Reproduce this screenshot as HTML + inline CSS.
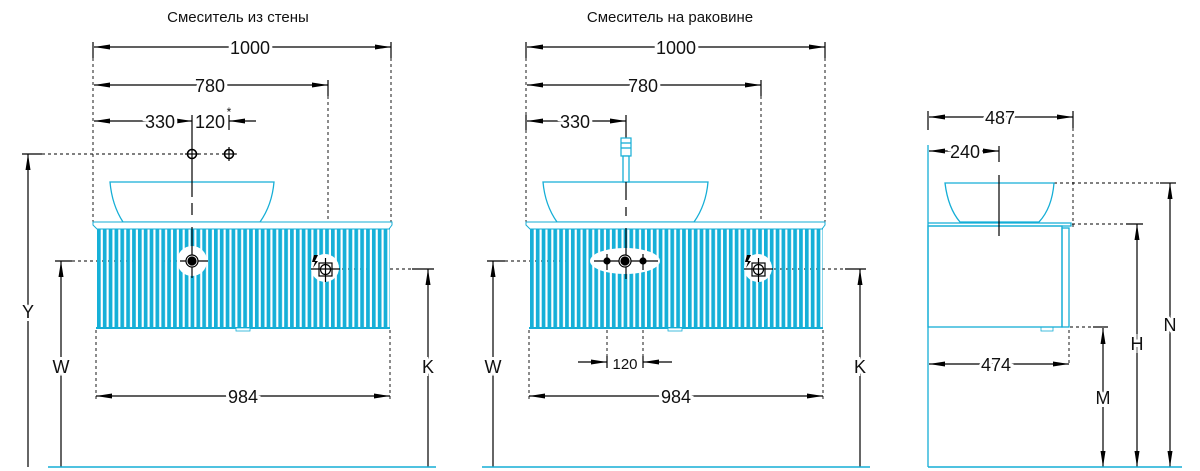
<!DOCTYPE html>
<html><head><meta charset="utf-8"><style>
html,body{margin:0;padding:0;background:#fff;width:1200px;height:471px;overflow:hidden}
svg{display:block}
text{font-family:"Liberation Sans",sans-serif;fill:#111}
</style></head><body>
<svg width="1200" height="471" viewBox="0 0 1200 471" xmlns="http://www.w3.org/2000/svg">
<defs>
<marker id="a" viewBox="0 0 16 6" refX="16" refY="3" markerWidth="16" markerHeight="6" markerUnits="userSpaceOnUse" orient="auto-start-reverse"><path d="M0,0.5 L16,3 L0,5.5 Z" fill="#000"/></marker>
<pattern id="st" x="97" y="0" width="5.85" height="10" patternUnits="userSpaceOnUse"><rect x="0" y="0" width="3.7" height="10" fill="#15b0d8"/></pattern>
<pattern id="st2" x="530" y="0" width="5.85" height="10" patternUnits="userSpaceOnUse"><rect x="0" y="0" width="3.7" height="10" fill="#15b0d8"/></pattern>
</defs>

<!-- ===== LEFT VIEW ===== -->
<text x="238" y="22" font-size="15" text-anchor="middle">Смеситель из стены</text>
<g stroke="#000" stroke-width="1.2" fill="none">
<line x1="94" y1="47" x2="391" y2="47" marker-start="url(#a)" marker-end="url(#a)"/>
<line x1="94" y1="85" x2="328" y2="85" marker-start="url(#a)" marker-end="url(#a)"/>
<line x1="94" y1="121" x2="192" y2="121" marker-start="url(#a)" marker-end="url(#a)"/>
<line x1="256" y1="121" x2="229" y2="121" marker-end="url(#a)"/>
<line x1="93" y1="42" x2="93" y2="58"/><line x1="391" y1="42" x2="391" y2="58"/>
<line x1="328" y1="80" x2="328" y2="96"/><line x1="192" y1="115" x2="192" y2="130"/><line x1="229" y1="115" x2="229" y2="130"/>
<line x1="96" y1="396" x2="390" y2="396" marker-start="url(#a)" marker-end="url(#a)"/>
<line x1="28" y1="467" x2="28" y2="154" marker-end="url(#a)"/>
<line x1="61" y1="467" x2="61" y2="261" marker-end="url(#a)"/>
<line x1="428" y1="467" x2="428" y2="269" marker-end="url(#a)"/>
<line x1="22" y1="154" x2="42" y2="154"/><line x1="55" y1="261" x2="72" y2="261"/><line x1="412" y1="269" x2="434" y2="269"/>
</g>
<g stroke="#000" stroke-width="0.9" stroke-dasharray="3,3" fill="none">
<line x1="93" y1="58" x2="93" y2="222"/><line x1="391" y1="58" x2="391" y2="222"/>
<line x1="328" y1="96" x2="328" y2="290"/>
<line x1="42" y1="154" x2="240" y2="154"/>
<line x1="72" y1="261" x2="190" y2="261"/><line x1="330" y1="269" x2="412" y2="269"/>
<line x1="96" y1="330" x2="96" y2="400"/><line x1="390" y1="330" x2="390" y2="400"/>
</g>
<rect x="96" y="227" width="294" height="101" fill="url(#st)"/>
<g stroke="#15aed6" stroke-width="1.3" fill="#fff">
<path d="M110,182 L274,182 Q272,205 260,222 L123,222 Q112,205 110,182 Z"/>
<path d="M93,222 L392,222 L392,225 L389,229 L97,229 L93,225 Z" stroke-width="1"/>
<line x1="96" y1="328" x2="390" y2="328" stroke-width="2"/>
<rect x="236" y="328" width="14" height="3" stroke-width="0.8"/>
</g>
<ellipse cx="192" cy="261" rx="15" ry="15" fill="#fff"/>
<ellipse cx="325" cy="268" rx="14" ry="14" fill="#fff"/>
<g stroke="#000" stroke-width="1.2" fill="none">
<line x1="192" y1="130" x2="192" y2="197"/><line x1="192" y1="203" x2="192" y2="215"/><line x1="192" y1="227" x2="192" y2="278"/>
<circle cx="192" cy="154" r="4.5" stroke-width="1.6"/><line x1="185" y1="154" x2="199" y2="154"/>
<circle cx="229" cy="154" r="4.5" stroke-width="1.6"/><line x1="222" y1="154" x2="236" y2="154"/><line x1="229" y1="147" x2="229" y2="161"/>
<line x1="180" y1="261" x2="208" y2="261"/>
<circle cx="192" cy="261" r="6" fill="#fff"/><circle cx="192" cy="261" r="4" fill="#000"/>
<rect x="319" y="263" width="13" height="13" fill="#fff"/><circle cx="325.5" cy="269.5" r="5"/>
<line x1="311" y1="269" x2="340" y2="269"/><line x1="325.5" y1="258" x2="325.5" y2="282"/>
</g>
<path d="M314,255 L318,255 L315,261 L318,261 L313,268 L315,262 L312,262 Z" fill="#000"/>
<g font-size="18" text-anchor="middle" style="paint-order:stroke" stroke="#fff" stroke-width="6">
<text x="160" y="128">330</text>
<text x="210" y="128" stroke-width="3">120</text>
<text x="210" y="92">780</text>
<text x="250" y="54">1000</text>
<text x="243" y="403">984</text>
<text x="28" y="318">Y</text>
<text x="61" y="373">W</text>
<text x="428" y="373">K</text>
</g>
<text x="229" y="116" font-size="12" text-anchor="middle">*</text>
<line x1="48" y1="467" x2="436" y2="467" stroke="#15aed6" stroke-width="1.5"/>

<!-- ===== CENTER VIEW ===== -->
<text x="670" y="22" font-size="15" text-anchor="middle">Смеситель на раковине</text>
<g stroke="#000" stroke-width="1.2" fill="none">
<line x1="527" y1="47" x2="825" y2="47" marker-start="url(#a)" marker-end="url(#a)"/>
<line x1="527" y1="85" x2="761" y2="85" marker-start="url(#a)" marker-end="url(#a)"/>
<line x1="527" y1="121" x2="626" y2="121" marker-start="url(#a)" marker-end="url(#a)"/>
<line x1="526" y1="42" x2="526" y2="58"/><line x1="825" y1="42" x2="825" y2="58"/>
<line x1="761" y1="80" x2="761" y2="96"/><line x1="526" y1="115" x2="526" y2="130"/><line x1="626" y1="115" x2="626" y2="200"/>
<line x1="529" y1="396" x2="823" y2="396" marker-start="url(#a)" marker-end="url(#a)"/>
<line x1="578" y1="362" x2="607" y2="362" marker-end="url(#a)"/>
<line x1="672" y1="362" x2="643" y2="362" marker-end="url(#a)"/>
<line x1="607" y1="356" x2="607" y2="368"/><line x1="643" y1="356" x2="643" y2="368"/>
<line x1="493" y1="467" x2="493" y2="261" marker-end="url(#a)"/>
<line x1="860" y1="467" x2="860" y2="269" marker-end="url(#a)"/>
<line x1="487" y1="261" x2="505" y2="261"/><line x1="845" y1="269" x2="866" y2="269"/>
</g>
<g stroke="#000" stroke-width="0.9" stroke-dasharray="3,3" fill="none">
<line x1="526" y1="58" x2="526" y2="222"/><line x1="825" y1="58" x2="825" y2="222"/>
<line x1="761" y1="96" x2="761" y2="290"/>
<line x1="505" y1="261" x2="600" y2="261"/><line x1="768" y1="269" x2="845" y2="269"/>
<line x1="529" y1="330" x2="529" y2="400"/><line x1="823" y1="330" x2="823" y2="400"/>
<line x1="607" y1="270" x2="607" y2="356"/><line x1="643" y1="270" x2="643" y2="356"/>
</g>
<rect x="529" y="227" width="294" height="101" fill="url(#st2)"/>
<g stroke="#15aed6" stroke-width="1.3" fill="#fff">
<path d="M543,182 L708,182 Q706,205 694,222 L557,222 Q545,205 543,182 Z"/>
<path d="M526,222 L825,222 L825,225 L822,229 L530,229 L526,225 Z" stroke-width="1"/>
<line x1="529" y1="328" x2="823" y2="328" stroke-width="2"/>
<rect x="668" y="328" width="14" height="3" stroke-width="0.8"/>
<rect x="621" y="138" width="10" height="18" stroke-width="1.2"/>
<line x1="621" y1="143" x2="631" y2="143"/><line x1="621" y1="148" x2="631" y2="148"/>
<rect x="623" y="156" width="6" height="26"/>
</g>
<ellipse cx="625" cy="261" rx="35" ry="13" fill="#fff"/>
<ellipse cx="758" cy="268" rx="14" ry="14" fill="#fff"/>
<g stroke="#000" stroke-width="1.2" fill="none">
<line x1="626" y1="182" x2="626" y2="200"/><line x1="626" y1="207" x2="626" y2="216"/><line x1="626" y1="228" x2="626" y2="279"/>
<line x1="594" y1="261" x2="658" y2="261"/>
<circle cx="625" cy="261" r="6" fill="#fff"/><circle cx="625" cy="261" r="4" fill="#000"/>
<circle cx="607" cy="261" r="3" fill="#000"/><circle cx="643" cy="261" r="3" fill="#000"/>
<line x1="607" y1="254" x2="607" y2="270"/><line x1="643" y1="254" x2="643" y2="270"/>
<rect x="752" y="263" width="13" height="13" fill="#fff"/><circle cx="758.5" cy="269.5" r="5"/>
<line x1="744" y1="269" x2="773" y2="269"/><line x1="758.5" y1="258" x2="758.5" y2="282"/>
</g>
<path d="M747,255 L751,255 L748,261 L751,261 L746,268 L748,262 L745,262 Z" fill="#000"/>
<g font-size="18" text-anchor="middle" style="paint-order:stroke" stroke="#fff" stroke-width="6">
<text x="575" y="128">330</text>
<text x="643" y="92">780</text>
<text x="676" y="54">1000</text>
<text x="676" y="403">984</text>
<text x="493" y="373">W</text>
<text x="860" y="373">K</text>
</g>
<text x="625" y="369" font-size="15" text-anchor="middle">120</text>
<line x1="482" y1="467" x2="870" y2="467" stroke="#15aed6" stroke-width="1.5"/>

<!-- ===== RIGHT VIEW ===== -->
<g stroke="#000" stroke-width="1.2" fill="none">
<line x1="929" y1="117" x2="1073" y2="117" marker-start="url(#a)" marker-end="url(#a)"/>
<line x1="928" y1="111" x2="928" y2="130"/><line x1="1073" y1="111" x2="1073" y2="128"/>
<line x1="929" y1="151" x2="999" y2="151" marker-start="url(#a)" marker-end="url(#a)"/>
<line x1="999" y1="146" x2="999" y2="162"/>
<line x1="929" y1="364" x2="1069" y2="364" marker-start="url(#a)" marker-end="url(#a)"/>
<line x1="1103" y1="328" x2="1103" y2="467" marker-start="url(#a)" marker-end="url(#a)"/>
<line x1="1137" y1="224" x2="1137" y2="467" marker-start="url(#a)" marker-end="url(#a)"/>
<line x1="1170" y1="183" x2="1170" y2="467" marker-start="url(#a)" marker-end="url(#a)"/>
<line x1="1093" y1="327" x2="1108" y2="327"/><line x1="1126" y1="224" x2="1143" y2="224"/><line x1="1160" y1="183" x2="1176" y2="183"/>
</g>
<g stroke="#000" stroke-width="0.9" stroke-dasharray="3,3" fill="none">
<line x1="1073" y1="128" x2="1073" y2="230"/>
<line x1="1054" y1="183" x2="1160" y2="183"/><line x1="1072" y1="224" x2="1126" y2="224"/>
<line x1="1070" y1="327" x2="1093" y2="327"/><line x1="1069" y1="330" x2="1069" y2="364"/>
</g>
<g stroke="#15aed6" stroke-width="1.3" fill="none">
<line x1="928" y1="145" x2="928" y2="467"/>
<path d="M945,183 L1054,183 Q1052,208 1039,222 L960,222 Q948,208 945,183 Z" fill="#fff"/>
<path d="M928,223 L1071,223 L1071,226 L928,226"/>
<rect x="928" y="226" width="134" height="101"/>
<rect x="1062" y="228" width="7" height="99"/>
<rect x="1041" y="327" width="12" height="4" stroke-width="0.8"/>
<line x1="928" y1="467" x2="1182" y2="467" stroke-width="1.5"/>
</g>
<line x1="999" y1="175" x2="999" y2="236" stroke="#000" stroke-width="1.2"/>
<g font-size="18" text-anchor="middle" style="paint-order:stroke" stroke="#fff" stroke-width="6">
<text x="1000" y="124">487</text>
<text x="965" y="158">240</text>
<text x="996" y="371">474</text>
<text x="1103" y="404">M</text>
<text x="1137" y="350">H</text>
<text x="1170" y="331">N</text>
</g>
</svg>
</body></html>
